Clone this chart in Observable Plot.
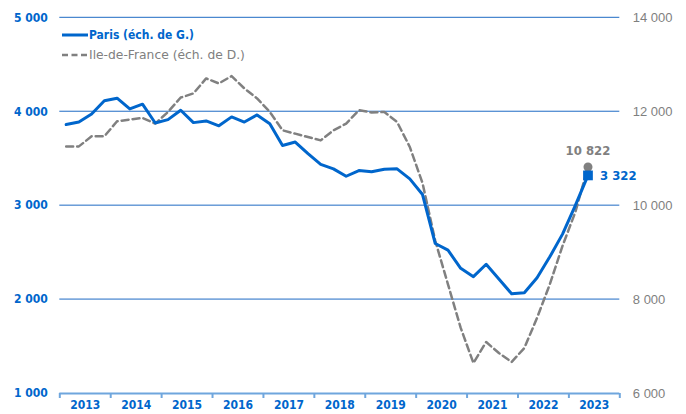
<!DOCTYPE html>
<html>
<head>
<meta charset="utf-8">
<script src="https://cdn.jsdelivr.net/npm/d3@7"></script>
<script src="https://cdn.jsdelivr.net/npm/@observablehq/plot@0.6"></script>
<style>
  html, body { margin: 0; padding: 0; background: #fff; }
  #wrap { position: relative; width: 686px; height: 414px; }
  #legend { position: absolute; left: 62px; top: 25px; font-family: "DejaVu Sans Condensed", "DejaVu Sans", sans-serif; font-size: 12px; }
  #legend div { display: flex; align-items: center; height: 20px; white-space: nowrap; }
  #legend svg { margin-right: 1px; }
</style>
</head>
<body>
<div id="wrap">
  <div id="chart"></div>
  <div id="legend">
    <div style="color:#0066CC;font-weight:bold"><svg width="26" height="10"><line x1="0" y1="5" x2="26" y2="5" stroke="#0066CC" stroke-width="3"/></svg>Paris (éch. de G.)</div>
    <div style="color:#808080;font-family:'DejaVu Sans',sans-serif;font-size:12.3px"><svg width="26" height="10"><line x1="0" y1="5" x2="26" y2="5" stroke="#808080" stroke-width="2.5" stroke-dasharray="6,3.5"/></svg>Ile-de-France (éch. de D.)</div>
  </div>
</div>
<script>
// Quarters (category labels)
const quarters = [
  "2013T1","2013T2","2013T3","2013T4","2014T1","2014T2","2014T3","2014T4",
  "2015T1","2015T2","2015T3","2015T4","2016T1","2016T2","2016T3","2016T4",
  "2017T1","2017T2","2017T3","2017T4","2018T1","2018T2","2018T3","2018T4",
  "2019T1","2019T2","2019T3","2019T4","2020T1","2020T2","2020T3","2020T4",
  "2021T1","2021T2","2021T3","2021T4","2022T1","2022T2","2022T3","2022T4",
  "2023T1","2023T2"
];
// Paris (left scale)
const paris = [3863,3891,3975,4116,4144,4030,4080,3880,3916,4016,
  3884,3902,3850,3945,3890,3966,3873,3641,3677,3553,
  3439,3392,3313,3374,3360,3388,3392,3285,3118,2597,
  2526,2333,2244,2376,2219,2062,2073,2233,2455,2697,
  3000,3322];
// Ile-de-France (right scale)
const idf = [11262,11262,11476,11476,11797,11833,11868,11747,11995,12302,
  12390,12709,12603,12759,12496,12283,11995,11604,11533,11461,
  11390,11604,11747,12032,11983,11995,11782,11250,10480,9251,
  8325,7397,6648,7097,6862,6670,6969,7611,8325,9144,
  9857,10822];
const years = [2013,2014,2015,2016,2017,2018,2019,2020,2021,2022,2023];
const leftTicks = [1000,2000,3000,4000,5000];
const rightTicks = [6000,8000,10000,12000,14000];

const loc = d3.formatLocale({decimal: ",", thousands: "\u00a0", grouping: [3], currency: ["", ""]});
const fmt = loc.format(",.0f");

// right scale -> left scale mapping
const toLeft = v => 1000 + (v - 6000) / 2;
const qx = q => +q.slice(0, 4) + (+q.slice(5) - 0.5) / 4;

const rows = quarters.map((q, i) => ({x: qx(q), paris: paris[i], idf: toLeft(idf[i]), idfRaw: idf[i]}));
const last = rows[rows.length - 1];
const boundaries = years.concat([years[years.length - 1] + 1]);
const x0 = years[0], x1 = boundaries[boundaries.length - 1];

const blue = "#0066CC";
const gray = "#808080";
const font = "DejaVu Sans Condensed, DejaVu Sans, sans-serif";

// each gridline as its own filled 1px rect (no stroke)
const gridMarks = leftTicks.slice(1).map(v =>
  Plot.rect([v], {x1: () => x0, x2: () => x1, y1: d => d, y2: d => d,
    insetTop: -0.5, insetBottom: -0.5, fill: "#1F6BC4"}));

const chart = Plot.plot({
  width: 686,
  height: 414,
  marginLeft: 59.3,
  marginRight: 66.7,
  marginTop: 17.3,
  marginBottom: 21,
  axis: null,
  style: {fontFamily: font, background: "#fff", overflow: "visible"},
  x: {domain: [x0, x1], label: null},
  y: {domain: [1000, 5000], label: null},
  marks: [
    ...gridMarks,
    Plot.ruleY([1000], {y: d => d, x1: x0, x2: x1, stroke: "#6FA6DD", strokeWidth: 2}),
    Plot.ruleX(boundaries, {x: d => d, y1: 1000, y2: 947, stroke: "#6FA6DD", strokeWidth: 2}),
    Plot.text(years, {x: d => d + 0.5, frameAnchor: "bottom", dy: 15, text: d => String(d),
      fill: blue, fontWeight: "bold", fontSize: 12, fontFamily: font}),
    Plot.text(leftTicks, {y: d => d, frameAnchor: "left", dx: -12, textAnchor: "end", text: fmt,
      fill: blue, fontWeight: "bold", fontSize: 12, fontFamily: font}),
    Plot.text(rightTicks, {y: toLeft, frameAnchor: "right", dx: 13, textAnchor: "start", text: fmt,
      fill: "#7F7F7F", fontSize: 13, fontFamily: "Liberation Sans, Arial, sans-serif"}),
    Plot.line(rows, {x: "x", y: "idf", stroke: gray, strokeWidth: 2.5, strokeDasharray: "7,4"}),
    Plot.line(rows, {x: "x", y: "paris", stroke: blue, strokeWidth: 3}),
    Plot.dot([last], {x: "x", y: "idf", r: 4.5, fill: gray}),
    Plot.dot([last], {x: "x", y: "paris", symbol: "square", r: 5.5, fill: blue}),
    Plot.text([last], {x: "x", y: "idf", text: d => fmt(d.idfRaw), dy: -16, fill: gray, fontWeight: "bold", fontSize: 13, fontFamily: font}),
    Plot.text([last], {x: "x", y: "paris", text: d => fmt(d.paris), dx: 12, textAnchor: "start", fill: blue, fontWeight: "bold", fontSize: 13, fontFamily: font})
  ]
});
document.getElementById("chart").appendChild(chart);
</script>
</body>
</html>
